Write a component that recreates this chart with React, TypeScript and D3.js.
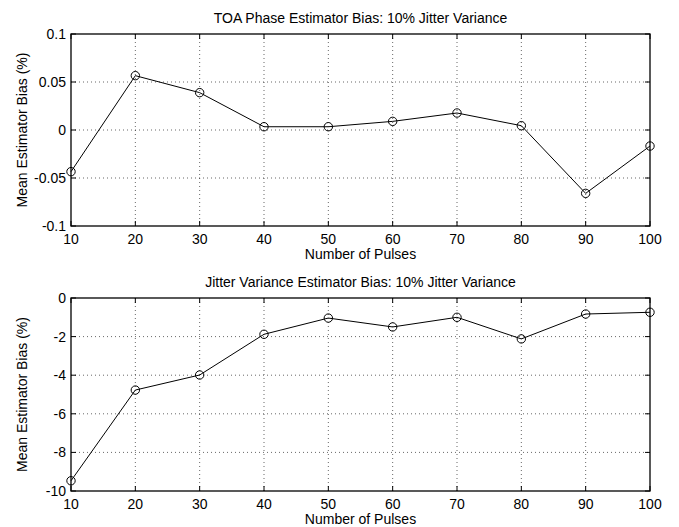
import React, { useEffect, useRef } from 'react'
import * as d3 from 'd3'

const pulses = [10, 20, 30, 40, 50, 60, 70, 80, 90, 100]
const toaBias = [-0.0434, 0.0566, 0.0389, 0.0034, 0.0034, 0.009, 0.0177, 0.0045, -0.066, -0.0167]
const jitterBias = [-9.47, -4.77, -3.99, -1.88, -1.04, -1.5, -1.0, -2.12, -0.83, -0.74]
const toaTicks = [-0.1, -0.05, 0, 0.05, 0.1]
const jitterTicks = [-10, -8, -6, -4, -2, 0]

const font = 'Liberation Sans, Arial, Helvetica, sans-serif'
const fs = 14

function drawPanel(svg, top, bottom, values, yTicks, yDomain, title) {
  const left = 71
  const right = 650
  const x = d3.scaleLinear().domain([10, 100]).range([left, right])
  const y = d3.scaleLinear().domain(yDomain).range([bottom, top])
  const g = svg.append('g')

  // dotted grid
  g.selectAll('.vg').data(pulses.slice(1, -1)).enter().append('line')
    .attr('x1', d => x(d)).attr('x2', d => x(d)).attr('y1', top).attr('y2', bottom)
    .attr('stroke', '#000').attr('stroke-width', 0.6).attr('stroke-dasharray', '1,3')
  g.selectAll('.hg').data(yTicks.slice(1, -1)).enter().append('line')
    .attr('x1', left).attr('x2', right).attr('y1', d => y(d)).attr('y2', d => y(d))
    .attr('stroke', '#000').attr('stroke-width', 0.6).attr('stroke-dasharray', '1,3')

  // inward ticks on all sides
  const tl = 5
  pulses.forEach(p => {
    g.append('line').attr('x1', x(p)).attr('x2', x(p)).attr('y1', bottom).attr('y2', bottom - tl).attr('stroke', '#000')
    g.append('line').attr('x1', x(p)).attr('x2', x(p)).attr('y1', top).attr('y2', top + tl).attr('stroke', '#000')
    g.append('text').attr('x', x(p)).attr('y', bottom + 17.5).attr('text-anchor', 'middle')
      .attr('font-size', fs).attr('font-family', font).text(p)
  })
  yTicks.forEach(t => {
    g.append('line').attr('x1', left).attr('x2', left + tl).attr('y1', y(t)).attr('y2', y(t)).attr('stroke', '#000')
    g.append('line').attr('x1', right).attr('x2', right - tl).attr('y1', y(t)).attr('y2', y(t)).attr('stroke', '#000')
    g.append('text').attr('x', left - 5).attr('y', y(t) + 5).attr('text-anchor', 'end')
      .attr('font-size', fs).attr('font-family', font).text(t)
  })

  g.append('rect').attr('x', left).attr('y', top).attr('width', right - left).attr('height', bottom - top)
    .attr('fill', 'none').attr('stroke', '#000').attr('stroke-width', 1.3)

  const line = d3.line().x((d, i) => x(pulses[i])).y(d => y(d))
  g.append('path').datum(values).attr('d', line).attr('fill', 'none').attr('stroke', '#000').attr('stroke-width', 1)
  g.selectAll('circle').data(values).enter().append('circle')
    .attr('cx', (d, i) => x(pulses[i])).attr('cy', d => y(d)).attr('r', 4.2)
    .attr('fill', 'none').attr('stroke', '#000').attr('stroke-width', 1)

  g.append('text').attr('x', (left + right) / 2).attr('y', top - 11).attr('text-anchor', 'middle')
    .attr('font-size', fs).attr('font-family', font).text(title)
  g.append('text').attr('x', (left + right) / 2).attr('y', bottom + 33).attr('text-anchor', 'middle')
    .attr('font-size', fs).attr('font-family', font).text('Number of Pulses')
  g.append('text').attr('transform', `translate(27,${(top + bottom) / 2}) rotate(-90)`)
    .attr('text-anchor', 'middle').attr('font-size', fs).attr('font-family', font)
    .text('Mean Estimator Bias (%)')
}

export default function App() {
  const ref = useRef(null)
  useEffect(() => {
    const svg = d3.select(ref.current)
    svg.selectAll('*').remove()
    svg.append('rect').attr('width', 679).attr('height', 527).attr('fill', '#fff')
    drawPanel(svg, 34, 226, toaBias, toaTicks, [-0.1, 0.1], 'TOA Phase Estimator Bias: 10% Jitter Variance')
    drawPanel(svg, 298, 491, jitterBias, jitterTicks, [-10, 0], 'Jitter Variance Estimator Bias: 10% Jitter Variance')
  }, [])
  return (
    <svg ref={ref} width={679} height={527} style={{ position: 'absolute', left: 0, top: 0 }} />
  )
}
